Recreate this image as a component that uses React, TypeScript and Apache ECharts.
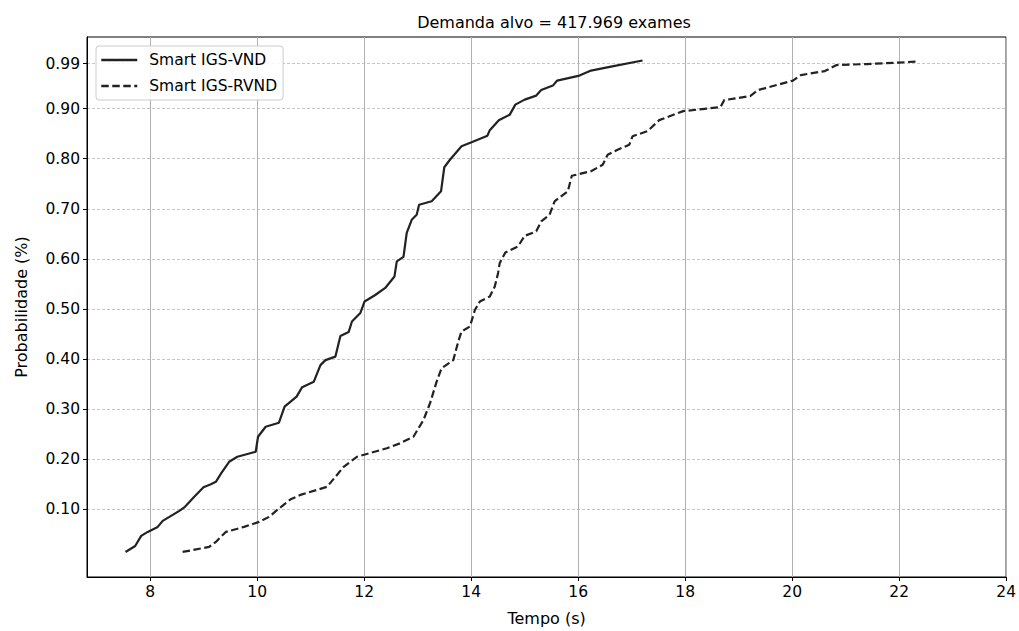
import React, { useEffect, useRef } from "react";
import * as echarts from "echarts";

const titleText = "Demanda alvo = 417.969 exames";
const xAxisName = "Tempo (s)";
const yAxisName = "Probabilidade (%)";
const seriesNames = ["Smart IGS-VND", "Smart IGS-RVND"];
const xTicks = [8, 10, 12, 14, 16, 18, 20, 22, 24];
const yTicks = [0.1, 0.2, 0.3, 0.4, 0.5, 0.6, 0.7, 0.8, 0.9, 0.99];

const vndX = [
  7.538, 7.719, 7.831, 7.953, 8.14, 8.233, 8.358, 8.544, 8.65, 8.823, 8.996, 9.134, 9.227, 9.331,
  9.475, 9.629, 9.972, 10.015, 10.158, 10.406, 10.512, 10.624, 10.736, 10.84, 11.058, 11.182,
  11.276, 11.462, 11.555, 11.709, 11.771, 11.927, 12.007, 12.207, 12.393, 12.566, 12.609, 12.734,
  12.795, 12.888, 12.981, 13.026, 13.261, 13.436, 13.497, 13.603, 13.819, 14.006, 14.304, 14.348,
  14.516, 14.721, 14.825, 15.0, 15.216, 15.309, 15.527, 15.607, 16.024, 16.24, 16.613, 17.203,
];
const vndY = [
  0.015, 0.027, 0.047, 0.055, 0.065, 0.077, 0.085, 0.097, 0.105, 0.125, 0.144, 0.15, 0.155, 0.173,
  0.195, 0.205, 0.215, 0.245, 0.265, 0.273, 0.305, 0.315, 0.325, 0.344, 0.355, 0.388, 0.398, 0.405,
  0.446, 0.454, 0.475, 0.492, 0.515, 0.528, 0.542, 0.565, 0.595, 0.604, 0.652, 0.678, 0.688, 0.708,
  0.715, 0.735, 0.783, 0.798, 0.825, 0.833, 0.846, 0.857, 0.877, 0.888, 0.908, 0.918, 0.926, 0.937,
  0.946, 0.956, 0.966, 0.976, 0.984, 0.996,
];

const rvndX = [
  8.605, 9.102, 9.227, 9.413, 9.754, 10.034, 10.22, 10.374, 10.624, 10.81, 11.305, 11.462, 11.616,
  11.864, 12.423, 12.672, 12.92, 13.106, 13.231, 13.354, 13.447, 13.665, 13.758, 13.819, 13.976,
  14.069, 14.162, 14.348, 14.441, 14.503, 14.534, 14.639, 14.875, 15.0, 15.216, 15.309, 15.465,
  15.559, 15.806, 15.881, 16.24, 16.458, 16.551, 16.737, 16.955, 17.017, 17.296, 17.514, 17.963,
  18.661, 18.73, 19.214, 19.363, 20.015, 20.164, 20.611, 20.831, 21.39, 22.007, 22.305,
];
const rvndY = [
  0.015, 0.025, 0.035, 0.055, 0.065, 0.075, 0.085, 0.099, 0.12, 0.129, 0.145, 0.165, 0.185, 0.205,
  0.222, 0.232, 0.245, 0.278, 0.312, 0.355, 0.382, 0.398, 0.435, 0.455, 0.465, 0.498, 0.515, 0.525,
  0.545, 0.572, 0.592, 0.613, 0.625, 0.646, 0.655, 0.675, 0.688, 0.715, 0.735, 0.766, 0.775, 0.788,
  0.808, 0.818, 0.828, 0.845, 0.855, 0.877, 0.895, 0.903, 0.917, 0.925, 0.937, 0.956, 0.967, 0.975,
  0.987, 0.989, 0.992, 0.994,
];

const zip = (xs: number[], ys: number[]) => xs.map((x, i) => [x, ys[i]]);

const FONT = "DejaVu Sans";
const FS = 15.5;
const LINE_COLOR = "#222222";

export default function App() {
  const ref = useRef<HTMLDivElement>(null);
  useEffect(() => {
    if (!ref.current) return;
    const chart = echarts.init(ref.current, null, { renderer: "svg" });
    chart.setOption({
      animation: false,
      backgroundColor: "#ffffff",
      textStyle: { fontFamily: FONT },
      title: {
        text: titleText,
        left: 549,
        top: 9,
        textAlign: "center",
        textStyle: { fontFamily: FONT, fontSize: 16, fontWeight: "normal", color: "#000" },
      },
      legend: {
        orient: "vertical",
        left: 96,
        top: 46,
        padding: [6, 6, 6, 4],
        itemWidth: 36,
        itemHeight: 14,
        itemGap: 10,
        backgroundColor: "rgba(255,255,255,0.85)",
        borderColor: "#cccccc",
        borderWidth: 1,
        borderRadius: 3,
        itemStyle: { opacity: 0 },
        lineStyle: { width: 2.5 },
        textStyle: { fontFamily: FONT, fontSize: 15.5, color: "#000", padding: [0, 0, 0, 7] },
        data: seriesNames,
      },
      grid: {
        left: 87,
        right: 9,
        top: 37,
        bottom: 54,
        show: true,
        borderColor: "#000",
        borderWidth: 1,
        backgroundColor: "transparent",
        containLabel: false,
      },
      xAxis: {
        type: "value",
        min: 6.818,
        max: 24,
        name: xAxisName,
        nameLocation: "middle",
        nameGap: 33,
        nameTextStyle: { fontFamily: FONT, fontSize: 16, color: "#000" },
        axisLine: { show: true, onZero: false, lineStyle: { color: "#000", width: 1 } },
        axisTick: { show: true, length: 4, inside: false, lineStyle: { color: "#000" }, customValues: xTicks },
        axisLabel: {
          customValues: xTicks,
          fontFamily: FONT,
          fontSize: FS,
          color: "#000",
          margin: 7,
          formatter: (v: number) => String(Math.round(v)),
        },
        splitLine: { show: true, lineStyle: { color: "#b0b0b0", width: 1, type: "solid" } },
      },
      yAxis: {
        type: "value",
        min: -0.035,
        max: 1.043,
        name: yAxisName,
        nameLocation: "middle",
        nameGap: 58,
        nameRotate: 90,
        nameTextStyle: { fontFamily: FONT, fontSize: 16, color: "#000" },
        axisLine: { show: true, onZero: false, lineStyle: { color: "#000", width: 1 } },
        axisTick: { show: true, length: 4, inside: false, lineStyle: { color: "#000" }, customValues: yTicks },
        axisLabel: {
          customValues: yTicks,
          fontFamily: FONT,
          fontSize: FS,
          color: "#000",
          margin: 7,
          formatter: (v: number) => v.toFixed(2),
        },
        splitLine: { show: true, lineStyle: { color: "#b8b8b8", width: 0.8, type: [3, 2] } },
      },
      series: [
        {
          name: seriesNames[0],
          type: "line",
          data: zip(vndX, vndY),
          showSymbol: false,
          symbol: "none",
          lineStyle: { color: LINE_COLOR, width: 2.2, type: "solid" },
          itemStyle: { color: LINE_COLOR },
        },
        {
          name: seriesNames[1],
          type: "line",
          data: zip(rvndX, rvndY),
          showSymbol: false,
          symbol: "none",
          lineStyle: { color: LINE_COLOR, width: 2.2, type: [7.5, 3.5] },
          itemStyle: { color: LINE_COLOR },
        },
      ],
    });
    return () => chart.dispose();
  }, []);
  return <div ref={ref} style={{ width: 1019, height: 631, position: "absolute", left: 0, top: 0 }} />;
}
